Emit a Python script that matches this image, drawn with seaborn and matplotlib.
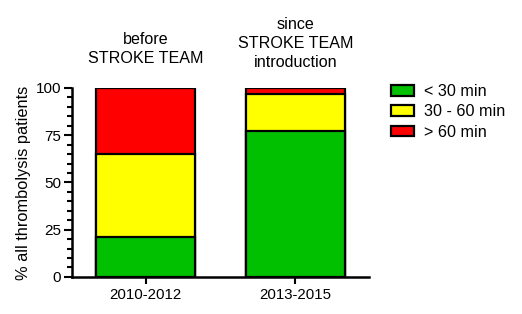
import matplotlib
matplotlib.use("Agg")
import matplotlib.pyplot as plt
import seaborn as sns
import pandas as pd
import numpy as np
from matplotlib.ticker import MultipleLocator
from matplotlib.patches import Patch

periods = ["2010-2012", "2013-2015"]
headers = ["before\nSTROKE TEAM", "since\nSTROKE TEAM\nintroduction"]
categories = ["< 30 min", "30 - 60 min", "> 60 min"]
lt30 = [21, 77]
b30_60 = [44, 20]
gt60 = [35, 3]
colors = ["#00C000", "#FFFF00", "#FF0000"]

sns.set_theme(style="ticks")
plt.rcParams['font.family'] = ['Liberation Sans', 'DejaVu Sans']
plt.rcParams['text.color'] = 'black'
plt.rcParams['axes.labelcolor'] = 'black'
plt.rcParams['xtick.color'] = 'black'
plt.rcParams['ytick.color'] = 'black'

fig = plt.figure(figsize=(5.22, 3.14), dpi=100)
ax = fig.add_axes([0.138, 0.118, 0.569, 0.602])

vals = np.array([lt30, b30_60, gt60], dtype=float)
cum = np.cumsum(vals, axis=0)
for i in range(len(categories) - 1, -1, -1):
    df = pd.DataFrame({"period": periods, "value": cum[i]})
    sns.barplot(data=df, x="period", y="value", color=colors[i], ax=ax,
                width=0.66, edgecolor="black", linewidth=1.6, saturation=1)

ax.set_xlim(-0.493, 1.493)
ax.set_ylim(0, 100)
ax.yaxis.set_major_locator(MultipleLocator(25))
ax.yaxis.set_minor_locator(MultipleLocator(5))
ax.set_xlabel("")
ax.set_ylabel("% all thrombolysis patients", fontsize=11.8, labelpad=3)
ax.tick_params(axis="y", which="major", length=6, width=1.5, labelsize=11, pad=2)
ax.tick_params(axis="y", which="minor", length=3.5, width=1.5)
ax.tick_params(axis="x", which="major", length=5, width=1.5, labelsize=10.8, pad=3)
for s in ["left", "bottom"]:
    ax.spines[s].set_linewidth(1.8)
    ax.spines[s].set_color("black")
sns.despine(ax=ax)

header_y = [120.5, 123.5]
for xi, h in enumerate(headers):
    ax.text(xi, header_y[xi], h, ha="center", va="center", fontsize=11.6,
            clip_on=False, linespacing=1.33)

handles = [Patch(facecolor=c, edgecolor="black", linewidth=1.6) for c in colors]
fig.legend(handles, categories, loc="upper left",
           bbox_to_anchor=(391 / 522, 1 - 84 / 314),
           frameon=False, fontsize=11.6, handlelength=1.4, handleheight=0.65,
           labelspacing=0.33, handletextpad=0.65, borderpad=0, borderaxespad=0)

fig.savefig("out.png", dpi=100)
